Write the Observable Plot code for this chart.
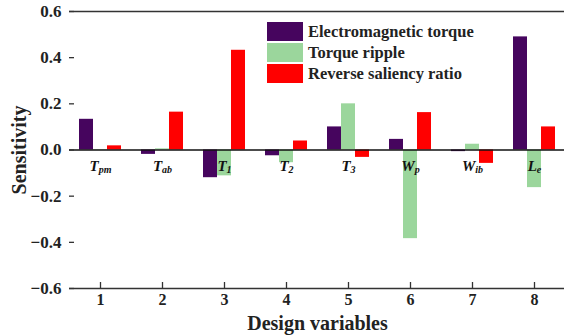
<!DOCTYPE html>
<html>
<head>
<meta charset="utf-8">
<script src="https://cdn.jsdelivr.net/npm/d3@7"></script>
<script src="https://cdn.jsdelivr.net/npm/@observablehq/plot@0.6"></script>
<style>
  html, body { margin: 0; padding: 0; background: #fff; }
  #wrap { position: relative; width: 564px; height: 335px; overflow: hidden; font-family: "Liberation Serif", "Times New Roman", serif; }
  #legend { position: absolute; left: 267px; top: 21px; font-weight: bold; font-size: 16.5px; color: #222; }
  #legend .row { display: flex; align-items: center; height: 21px; }
  #legend .sw { width: 36px; height: 19px; margin-right: 5px; }
  svg { overflow: hidden; }
</style>
</head>
<body>
<div id="wrap"><div id="chart"></div><div id="legend"></div></div>
<script>
const groups = [1, 2, 3, 4, 5, 6, 7, 8];
const designLabels = ["T_pm", "T_ab", "T_1", "T_2", "T_3", "W_p", "W_ib", "L_e"];
const series = ["Electromagnetic torque", "Torque ripple", "Reverse saliency ratio"];
const emTorque = [0.133, -0.019, -0.12, -0.025, 0.10, 0.046, -0.007, 0.49];
const torqueRipple = [0.002, 0.005, -0.112, -0.055, 0.20, -0.384, 0.025, -0.163];
const reverseSaliency = [0.018, 0.164, 0.432, 0.039, -0.032, 0.162, -0.058, 0.10];
const colors = ["#46055e", "#9bd69c", "#ff0000"];
const yTicks = [-0.6, -0.4, -0.2, 0.0, 0.2, 0.4, 0.6];

const seriesValues = [emTorque, torqueRipple, reverseSaliency];
const rows = [];
groups.forEach((g, i) => series.forEach((s, j) => rows.push({group: g, series: s, value: seriesValues[j][i]})));
const labelRows = groups.map((g, i) => ({group: g, label: designLabels[i]}));

const font = "Liberation Serif";
const plot = Plot.plot({
  width: 564,
  height: 335,
  marginLeft: 66,
  marginRight: 0,
  marginTop: 11,
  marginBottom: 47,
  style: {fontFamily: font, fontWeight: "bold", fontSize: "17px", color: "#222", background: "#fff"},
  fx: {domain: groups, range: [66, 567.3], padding: 0, axis: null},
  x: {domain: series, paddingInner: 0, paddingOuter: 0.59, axis: null},
  y: {domain: [-0.6, 0.6], axis: null},
  color: {domain: series, range: colors},
  marks: [
    Plot.barY(rows, {fx: "group", x: "series", y: "value", fill: "series"}),
    Plot.ruleY([0], {stroke: "#111", strokeWidth: 1.6}),
    Plot.ruleY([0.6], {stroke: "#333", strokeWidth: 1.4}),
    Plot.ruleY([-0.6], {stroke: "#333", strokeWidth: 1.4}),
    Plot.axisY({ticks: yTicks, tickSize: 0, tickPadding: 8, tickFormat: d3.format(".1f"), line: true, stroke: "#333", strokeWidth: 1.4,
      label: "Sensitivity", labelAnchor: "center", labelOffset: 58, labelArrow: "none"}),
    Plot.axisY({ticks: yTicks, tickSize: 5, dx: 5, tickFormat: () => "", label: null, stroke: "#333", strokeWidth: 1.3}),
    Plot.axisFx({anchor: "bottom", tickSize: 0, tickPadding: 5, fontSize: 16, label: "Design variables", labelAnchor: "center", labelOffset: 41, labelArrow: "none"}),
    Plot.axisFx({anchor: "bottom", tickSize: 6, dy: -6, tickFormat: () => "", label: null, stroke: "#333", strokeWidth: 1.3}),
    Plot.text(labelRows, {fx: "group", y: d => 0, dy: 16, text: "label", frameAnchor: "middle",
      fontStyle: "italic", fontWeight: "bold", fontSize: 15, fill: "#111", className: "dv"})
  ]
});
document.getElementById("chart").appendChild(plot);

// subscripts for design-variable labels
plot.querySelectorAll(".dv text").forEach(t => {
  const [main, sub] = t.textContent.split("_");
  t.textContent = "";
  const ns = "http://www.w3.org/2000/svg";
  const a = document.createElementNS(ns, "tspan"); a.textContent = main; t.appendChild(a);
  if (sub) {
    const b = document.createElementNS(ns, "tspan");
    b.textContent = sub; b.setAttribute("font-size", "10"); b.setAttribute("dy", "2");
    t.appendChild(b);
  }
});
// axis title sizes
plot.querySelectorAll('[aria-label$="axis label"]').forEach(g => { g.setAttribute("font-size", "20"); g.style.fontSize = "20px"; });

const legend = document.getElementById("legend");
series.forEach((s, i) => {
  const r = document.createElement("div"); r.className = "row";
  r.innerHTML = `<div class="sw" style="background:${colors[i]}"></div><span>${s}</span>`;
  legend.appendChild(r);
});
</script>
</body>
</html>
